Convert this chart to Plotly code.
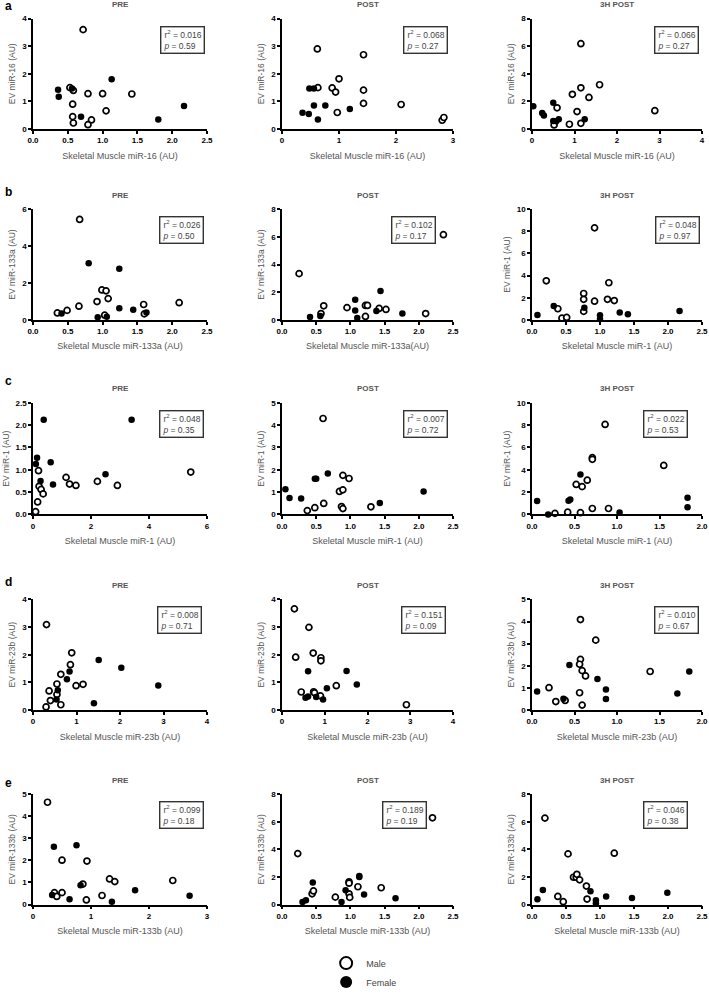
import plotly.graph_objects as go
from plotly.subplots import make_subplots

# values (open = male, filled = female)

# --- a: miR-16 ---
a_pre_male_x = [0.72, 0.53, 0.58, 0.79, 1.00, 1.42, 0.57, 1.05, 0.57, 0.58, 0.84, 0.79]
a_pre_male_y = [3.60, 1.50, 1.40, 1.28, 1.28, 1.27, 0.90, 0.66, 0.45, 0.22, 0.33, 0.16]
a_pre_female_x = [0.36, 0.37, 0.56, 1.13, 0.69, 1.80, 2.17]
a_pre_female_y = [1.42, 1.17, 1.47, 1.80, 0.45, 0.35, 0.84]

a_post_male_x = [0.62, 0.63, 0.88, 0.94, 1.00, 0.97, 1.43, 1.43, 1.43, 2.09, 2.81, 2.84]
a_post_male_y = [2.90, 1.50, 1.49, 1.34, 1.82, 0.60, 2.69, 1.41, 0.93, 0.89, 0.32, 0.42]
a_post_female_x = [0.36, 0.47, 0.48, 0.56, 0.56, 0.76, 0.63, 1.19]
a_post_female_y = [0.59, 0.55, 1.47, 1.47, 0.85, 0.85, 0.35, 0.73]

a_3h_male_x = [0.52, 0.59, 0.88, 0.95, 1.06, 1.15, 1.15, 1.15, 1.34, 1.59, 2.89]
a_3h_male_y = [0.30, 1.54, 0.35, 2.52, 1.27, 0.42, 6.18, 2.99, 2.29, 3.21, 1.33]
a_3h_female_x = [0.03, 0.24, 0.28, 0.50, 0.50, 0.57, 0.63, 1.24]
a_3h_female_y = [1.65, 1.16, 0.99, 1.90, 0.59, 0.57, 0.71, 0.71]

# --- b: miR-133a / miR-1 ---
b_pre_male_x = [0.67, 0.35, 0.49, 0.66, 0.92, 0.99, 1.05, 1.08, 1.03, 1.59, 1.60, 2.10]
b_pre_male_y = [5.45, 0.37, 0.51, 0.74, 0.99, 1.62, 1.57, 1.15, 0.25, 0.83, 0.32, 0.93]
b_pre_female_x = [0.41, 0.80, 0.93, 1.06, 1.24, 1.24, 1.44, 1.63]
b_pre_female_y = [0.34, 3.07, 0.14, 0.16, 2.77, 0.63, 0.55, 0.39]

b_post_male_x = [0.25, 0.57, 0.61, 0.95, 1.22, 1.22, 1.25, 1.42, 1.52, 2.10, 2.36]
b_post_male_y = [3.34, 0.45, 1.01, 0.88, 0.24, 1.04, 1.04, 0.82, 0.75, 0.45, 6.16]
b_post_female_x = [0.41, 0.56, 1.07, 1.07, 1.10, 1.38, 1.44, 1.76]
b_post_female_y = [0.21, 0.28, 1.45, 0.68, 0.13, 0.64, 2.09, 0.45]

b_3h_male_x = [0.21, 0.38, 0.44, 0.51, 0.76, 0.76, 0.76, 0.92, 0.92, 1.13, 1.11, 1.21]
b_3h_male_y = [3.53, 1.00, 0.15, 0.21, 2.38, 1.85, 0.76, 8.32, 1.68, 3.35, 1.85, 1.74]
b_3h_female_x = [0.08, 0.32, 0.77, 1.00, 1.00, 1.29, 1.41, 2.17]
b_3h_female_y = [0.44, 1.24, 1.09, 0.41, 0.06, 0.65, 0.50, 0.79]

# --- c: miR-1 ---
c_pre_male_x = [0.19, 0.21, 0.28, 0.35, 0.16, 0.09, 1.14, 1.26, 1.48, 2.22, 2.91, 5.44]
c_pre_male_y = [0.98, 0.63, 0.56, 0.46, 0.28, 0.06, 0.83, 0.68, 0.65, 0.74, 0.65, 0.95]
c_pre_female_x = [0.37, 3.40, 0.14, 0.10, 0.61, 0.26, 0.69, 2.50]
c_pre_female_y = [2.12, 2.12, 1.27, 1.13, 1.17, 0.75, 0.67, 0.90]

c_post_male_x = [0.60, 0.37, 0.48, 0.61, 0.84, 0.89, 0.89, 0.98, 0.87, 0.89, 1.30]
c_post_male_y = [4.30, 0.17, 0.30, 0.49, 1.03, 1.10, 1.75, 1.61, 0.35, 0.26, 0.34]
c_post_female_x = [0.05, 0.11, 0.28, 0.48, 0.50, 0.67, 1.43, 2.07]
c_post_female_y = [1.13, 0.74, 0.71, 1.60, 1.60, 1.83, 0.51, 1.03]

c_3h_male_x = [0.27, 0.42, 0.57, 0.52, 0.59, 0.65, 0.71, 0.71, 0.71, 0.86, 0.90, 1.55]
c_3h_male_y = [0.09, 0.20, 0.15, 2.69, 2.49, 3.07, 5.09, 4.94, 0.53, 8.07, 0.53, 4.39]
c_3h_female_x = [0.06, 0.19, 0.43, 0.45, 0.57, 1.03, 1.83, 1.83]
c_3h_female_y = [1.20, 0.00, 1.23, 1.34, 3.57, 0.18, 1.49, 0.64]

# --- d: miR-23b ---
d_pre_male_x = [0.31, 0.30, 0.37, 0.40, 0.55, 0.55, 0.64, 0.64, 0.86, 0.89, 0.99, 1.15]
d_pre_male_y = [3.09, 0.11, 0.69, 0.34, 0.94, 0.56, 1.29, 0.19, 1.64, 2.07, 0.88, 0.93]
d_pre_female_x = [0.54, 0.57, 0.78, 0.84, 1.40, 1.51, 2.03, 2.88]
d_pre_female_y = [0.38, 0.71, 1.11, 1.39, 0.24, 1.81, 1.53, 0.89]

d_post_male_x = [0.29, 0.32, 0.45, 0.63, 0.73, 0.91, 0.91, 0.74, 0.76, 0.90, 1.27, 2.91]
d_post_male_y = [3.66, 1.91, 0.65, 2.99, 2.06, 1.89, 1.78, 0.66, 0.62, 0.51, 0.88, 0.19]
d_post_female_x = [0.61, 0.55, 0.61, 0.80, 0.96, 1.05, 1.51, 1.75]
d_post_female_y = [1.40, 0.44, 0.49, 0.47, 0.38, 0.79, 1.41, 0.92]

d_3h_male_x = [0.20, 0.28, 0.39, 0.57, 0.57, 0.56, 0.59, 0.63, 0.56, 0.59, 0.75, 1.39]
d_3h_male_y = [1.01, 0.38, 0.43, 4.09, 2.29, 2.07, 1.78, 1.54, 0.78, 0.22, 3.16, 1.74]
d_3h_female_x = [0.06, 0.37, 0.44, 0.77, 0.87, 0.87, 1.71, 1.85]
d_3h_female_y = [0.84, 0.51, 2.04, 1.40, 0.93, 0.50, 0.74, 1.74]

# --- e: miR-133b ---
e_pre_male_x = [0.25, 0.50, 0.93, 1.32, 1.41, 0.86, 0.37, 0.41, 0.50, 0.92, 1.19, 2.41]
e_pre_male_y = [4.63, 2.01, 1.97, 1.16, 1.04, 0.93, 0.54, 0.37, 0.54, 0.21, 0.41, 1.09]
e_pre_female_x = [0.36, 0.75, 0.33, 0.63, 0.82, 1.36, 1.76, 2.70]
e_pre_female_y = [2.62, 2.69, 0.43, 0.24, 0.88, 0.13, 0.65, 0.40]

e_post_male_x = [0.23, 0.44, 0.46, 0.78, 0.98, 0.98, 0.98, 0.99, 1.11, 1.45, 2.20]
e_post_male_y = [3.69, 0.78, 0.99, 0.54, 1.65, 1.55, 0.78, 0.52, 1.29, 1.22, 6.28]
e_post_female_x = [0.30, 0.35, 0.45, 0.87, 0.93, 1.13, 1.13, 1.20, 1.66]
e_post_female_y = [0.19, 0.31, 1.60, 0.19, 1.04, 2.07, 2.00, 0.73, 0.45]

e_3h_male_x = [0.19, 0.38, 0.46, 0.53, 1.21, 0.61, 0.65, 0.66, 0.70, 0.80, 0.81]
e_3h_male_y = [6.26, 0.59, 0.21, 3.67, 3.72, 1.98, 1.98, 2.19, 1.79, 1.34, 0.40]
e_3h_female_x = [0.08, 0.16, 0.86, 0.94, 0.94, 1.09, 1.47, 1.99]
e_3h_female_y = [0.38, 1.06, 0.96, 0.31, 0.09, 0.59, 0.47, 0.85]

r_squared = ["0.016", "0.068", "0.066",
             "0.026", "0.102", "0.048",
             "0.048", "0.007", "0.022",
             "0.008", "0.151", "0.010",
             "0.099", "0.189", "0.046"]
p_values = ["0.59", "0.27", "0.27",
            "0.50", "0.17", "0.97",
            "0.35", "0.72", "0.53",
            "0.71", "0.09", "0.67",
            "0.18", "0.19", "0.38"]

time_points = ["PRE", "POST", "3H POST"]
row_letters = ["a", "b", "c", "d", "e"]

x_titles = ["Skeletal Muscle miR-16 (AU)", "Skeletal Muscle miR-16 (AU)", "Skeletal Muscle miR-16 (AU)",
            "Skeletal Muscle miR-133a (AU)", "Skeletal Muscle miR-133a(AU)", "Skeletal Muscle miR-1 (AU)",
            "Skeletal Muscle miR-1 (AU)", "Skeletal Muscle miR-1 (AU)", "Skeletal Muscle miR-1 (AU)",
            "Skeletal Muscle miR-23b (AU)", "Skeletal Muscle miR-23b (AU)", "Skeletal Muscle miR-23b (AU)",
            "Skeletal Muscle miR-133b (AU)", "Skeletal Muscle miR-133b (AU)", "Skeletal Muscle miR-133b (AU)"]
y_titles = ["EV miR-16 (AU)", "EV miR-16 (AU)", "EV miR-16 (AU)",
            "EV miR-133a (AU)", "EV miR-133a (AU)", "EV miR-1 (AU)",
            "EV miR-1 (AU)", "EV miR-1 (AU)", "EV miR-1 (AU)",
            "EV miR-23b (AU)", "EV miR-23b (AU)", "EV miR-23b (AU)",
            "EV miR-133b (AU)", "EV miR-133b (AU)", "EV miR-133b (AU)"]

panels = [
    (a_pre_male_x, a_pre_male_y, a_pre_female_x, a_pre_female_y),
    (a_post_male_x, a_post_male_y, a_post_female_x, a_post_female_y),
    (a_3h_male_x, a_3h_male_y, a_3h_female_x, a_3h_female_y),
    (b_pre_male_x, b_pre_male_y, b_pre_female_x, b_pre_female_y),
    (b_post_male_x, b_post_male_y, b_post_female_x, b_post_female_y),
    (b_3h_male_x, b_3h_male_y, b_3h_female_x, b_3h_female_y),
    (c_pre_male_x, c_pre_male_y, c_pre_female_x, c_pre_female_y),
    (c_post_male_x, c_post_male_y, c_post_female_x, c_post_female_y),
    (c_3h_male_x, c_3h_male_y, c_3h_female_x, c_3h_female_y),
    (d_pre_male_x, d_pre_male_y, d_pre_female_x, d_pre_female_y),
    (d_post_male_x, d_post_male_y, d_post_female_x, d_post_female_y),
    (d_3h_male_x, d_3h_male_y, d_3h_female_x, d_3h_female_y),
    (e_pre_male_x, e_pre_male_y, e_pre_female_x, e_pre_female_y),
    (e_post_male_x, e_post_male_y, e_post_female_x, e_post_female_y),
    (e_3h_male_x, e_3h_male_y, e_3h_female_x, e_3h_female_y),
]

# axis scales per panel: (xmax, xdtick, xformat, ymax, ydtick, yformat)
axis_specs = [
    (2.5, 0.5, ".1f", 4, 1, "d"), (3, 1, "d", 4, 1, "d"), (4, 1, "d", 8, 2, "d"),
    (2.5, 0.5, ".1f", 6, 2, "d"), (2.5, 0.5, ".1f", 8, 2, "d"), (2.5, 0.5, ".1f", 10, 2, "d"),
    (6, 2, "d", 2.5, 0.5, ".1f"), (2.5, 0.5, ".1f", 5, 1, "d"), (2.0, 0.5, ".1f", 10, 2, "d"),
    (4, 1, "d", 4, 1, "d"), (4, 1, "d", 4, 1, "d"), (2.0, 0.5, ".1f", 5, 1, "d"),
    (3, 1, "d", 5, 1, "d"), (2.5, 0.5, ".1f", 8, 2, "d"), (2.5, 0.5, ".1f", 8, 2, "d"),
]
# right edge of the stats box, as fraction of plot width
box_right = [0.99, 0.97, 0.98, 0.98, 0.90, 0.99, 0.98, 0.97, 0.92, 0.97, 0.96, 0.98, 0.98, 0.85, 0.92]

W, H = 709, 997
col_px = [(33, 207), (282, 453), (532, 702)]
row_px = [(19, 132), (214, 327), (412, 526), (613, 726), (812, 925)]
letter_px = [6, 196, 390, 595, 801]

FONT = "Liberation Sans, Arial, sans-serif"

fig = make_subplots(rows=5, cols=3)

for k, (mx, my, fx, fy) in enumerate(panels):
    r, c = k // 3 + 1, k % 3 + 1
    fig.add_trace(go.Scatter(
        x=mx, y=my, mode="markers", name="Male", legendgroup="m", showlegend=(k == 0),
        cliponaxis=False,
        marker=dict(symbol="circle", size=6, color="white", line=dict(color="black", width=1.7)),
    ), row=r, col=c)
    fig.add_trace(go.Scatter(
        x=fx, y=fy, mode="markers", name="Female", legendgroup="f", showlegend=(k == 0),
        cliponaxis=False,
        marker=dict(symbol="circle", size=6.5, color="black", line=dict(width=0)),
    ), row=r, col=c)

    xmax, xd, xf, ymax, yd, yf = axis_specs[k]
    x0, x1 = col_px[c - 1]
    y0, y1 = row_px[r - 1]
    fig.update_xaxes(domain=[x0 / W, x1 / W], range=[0, xmax], tick0=0, dtick=xd, tickformat=xf,
                     title=dict(text=x_titles[k], standoff=8, font=dict(size=9, color="#555", family=FONT)),
                     row=r, col=c)
    fig.update_yaxes(domain=[1 - y1 / H, 1 - y0 / H], range=[0, ymax], tick0=0, dtick=yd, tickformat=yf,
                     title=dict(text=y_titles[k], standoff=5, font=dict(size=8.5, color="#555", family=FONT)),
                     row=r, col=c)

    n = "" if k == 0 else str(k + 1)
    fig.add_annotation(
        xref=f"x{n} domain", yref=f"y{n} domain", x=box_right[k], y=1, yshift=-7,
        xanchor="right", yanchor="top", showarrow=False, align="left",
        text=f"r<sup>2</sup> = {r_squared[k]}<br><i>p</i> = {p_values[k]}",
        font=dict(size=8.5, color="#444", family=FONT),
        bordercolor="#333", borderwidth=1.4, borderpad=2, bgcolor="white",
    )
    fig.add_annotation(
        xref=f"x{n} domain", yref=f"y{n} domain", x=0.5, y=1, yshift=14,
        xanchor="center", yanchor="middle", showarrow=False,
        text=f"<b>{time_points[c - 1]}</b>", font=dict(size=8, color="#555", family=FONT),
    )

for i, letter in enumerate(row_letters):
    fig.add_annotation(xref="paper", yref="paper", x=3 / W, y=1 - letter_px[i] / H,
                       xanchor="left", yanchor="middle", showarrow=False,
                       text=f"<b>{letter}</b>", font=dict(size=12, color="black", family=FONT))

axis_style = dict(
    showline=True, linecolor="black", linewidth=1.5, ticks="outside", ticklen=3, tickwidth=1.5,
    tickcolor="black", showgrid=False, zeroline=False, automargin=False,
    tickfont=dict(size=8, color="black", family=FONT, weight="bold"),
)
fig.update_xaxes(**axis_style)
fig.update_yaxes(**axis_style)

fig.update_layout(
    width=W, height=H, margin=dict(l=0, r=0, t=0, b=0),
    plot_bgcolor="white", paper_bgcolor="white",
    font=dict(family=FONT, color="#444"),
    legend=dict(x=0.46, y=1 - 970 / H, xanchor="left", yanchor="top",
                font=dict(size=9, color="#444", family=FONT), itemsizing="constant",
                tracegroupgap=0, bgcolor="rgba(0,0,0,0)"),
)

fig.write_html("out.html", config={"displayModeBar": False},
               post_script="document.body.style.margin='0';document.body.style.overflow='hidden';")
